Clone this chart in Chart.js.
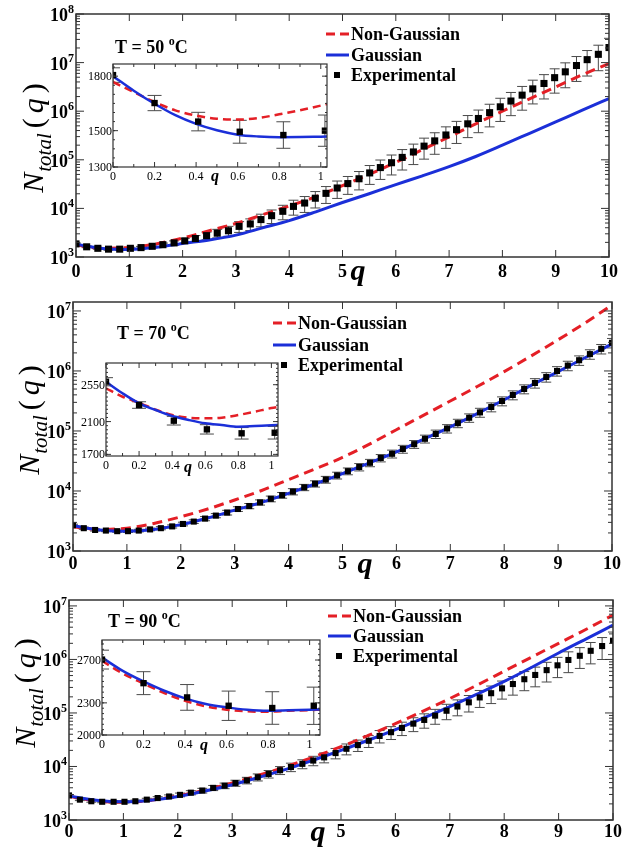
<!DOCTYPE html>
<html>
<head>
<meta charset="utf-8">
<script src="https://cdn.jsdelivr.net/npm/chart.js@4/dist/chart.umd.min.js"></script>
<style>
  body { margin: 0; background: #fff; }
  #wrap { position: relative; width: 629px; height: 850px; overflow: hidden; }
  canvas { position: absolute; }
</style>
</head>
<body>
<div id="wrap">
  <canvas id="p1"></canvas>
  <canvas id="p2"></canvas>
  <canvas id="p3"></canvas>
  <canvas id="i1"></canvas>
  <canvas id="i2"></canvas>
  <canvas id="i3"></canvas>
</div>
<script>
// ---- data ----
// q of the experimental points (main panels)
const qExp = [0, 0.2, 0.41, 0.61, 0.82, 1.02, 1.22, 1.43, 1.63, 1.84,
  2.04, 2.24, 2.45, 2.65, 2.86, 3.06, 3.27, 3.47, 3.67, 3.88,
  4.08, 4.29, 4.49, 4.69, 4.9, 5.1, 5.31, 5.51, 5.71, 5.92,
  6.12, 6.33, 6.53, 6.73, 6.94, 7.14, 7.35, 7.55, 7.76, 7.96,
  8.16, 8.37, 8.57, 8.78, 8.98, 9.18, 9.39, 9.59, 9.8, 10];
// q of the model curves (main panels)
const qFit = [0, 0.5, 1, 1.5, 2, 2.5, 3, 3.5, 4, 4.5, 5, 5.5, 6, 6.5, 7, 7.5, 8, 8.5, 9, 9.5, 10];

// T = 50 C
const exp50 = [1860, 1620, 1510, 1450, 1450, 1510, 1560, 1660, 1790, 1950,
  2150, 2400, 2750, 3090, 3470, 4270, 4790, 5890, 7080, 8710,
  1.10e4, 1.29e4, 1.62e4, 2.04e4, 2.63e4, 3.24e4, 4.07e4, 5.37e4, 6.92e4, 8.71e4,
  1.12e5, 1.45e5, 1.91e5, 2.45e5, 3.24e5, 4.17e5, 5.50e5, 7.08e5, 9.33e5, 1.23e6,
  1.62e6, 2.14e6, 2.88e6, 3.72e6, 4.90e6, 6.46e6, 8.71e6, 1.15e7, 1.48e7, 2.04e7];
const err50 = [0.04, 0.04, 0.04, 0.05, 0.05, 0.05, 0.06, 0.07, 0.08, 0.10,
  0.12, 0.15, 0.18, 0.20, 0.23, 0.25, 0.27, 0.29, 0.31, 0.33,
  0.34, 0.36, 0.37, 0.38, 0.39, 0.40, 0.41, 0.42, 0.43, 0.44,
  0.45, 0.45, 0.46, 0.47, 0.47, 0.48, 0.48, 0.49, 0.49, 0.50,
  0.50, 0.51, 0.51, 0.52, 0.52, 0.53, 0.53, 0.54, 0.54, 0.55];
const gauss50 = [1840, 1500, 1430, 1580, 1900, 2240, 2820, 3980, 5620, 8510, 1.32e4,
  2.00e4, 3.09e4, 4.68e4, 7.24e4, 1.17e5, 2.00e5, 3.47e5, 6.03e5, 1.05e6, 1.82e6];
const nonGauss50 = [1760, 1510, 1570, 1860, 2450, 3470, 4900, 7410, 1.12e4, 1.74e4, 2.95e4,
  5.01e4, 8.91e4, 1.62e5, 2.95e5, 5.50e5, 1.00e6, 1.78e6, 3.16e6, 5.62e6, 9.55e6];

// T = 70 C
const exp70 = [2690, 2400, 2240, 2190, 2140, 2140, 2190, 2290, 2400, 2570,
  2820, 3090, 3470, 3890, 4370, 5010, 5620, 6460, 7410, 8510,
  9770, 1.15e4, 1.32e4, 1.55e4, 1.82e4, 2.14e4, 2.51e4, 2.95e4, 3.55e4, 4.17e4,
  5.01e4, 6.03e4, 7.41e4, 8.91e4, 1.10e5, 1.35e5, 1.66e5, 2.04e5, 2.51e5, 3.16e5,
  3.98e5, 5.01e5, 6.31e5, 7.94e5, 1.00e6, 1.23e6, 1.51e6, 1.91e6, 2.34e6, 2.95e6];
const err70 = [0.04, 0.04, 0.04, 0.04, 0.04, 0.05, 0.05, 0.05, 0.06, 0.06,
  0.07, 0.07, 0.08, 0.08, 0.09, 0.09, 0.10, 0.10, 0.11, 0.11,
  0.12, 0.12, 0.12, 0.13, 0.13, 0.13, 0.14, 0.14, 0.14, 0.15,
  0.15, 0.15, 0.15, 0.16, 0.16, 0.16, 0.16, 0.17, 0.17, 0.17,
  0.17, 0.17, 0.18, 0.18, 0.18, 0.18, 0.18, 0.18, 0.18, 0.18];
const gauss70 = [2630, 2240, 2140, 2290, 2750, 3550, 4790, 6460, 9120, 1.32e4, 1.95e4,
  2.95e4, 4.47e4, 7.24e4, 1.17e5, 1.95e5, 3.31e5, 5.75e5, 9.77e5, 1.66e6, 2.82e6];
const nonGauss70 = [2510, 2290, 2400, 2880, 3720, 5010, 7080, 1.02e4, 1.55e4, 2.34e4, 3.63e4,
  6.03e4, 1.05e5, 1.82e5, 3.16e5, 5.50e5, 9.77e5, 1.78e6, 3.31e6, 6.31e6, 1.26e7];

// T = 90 C
const exp90 = [2880, 2400, 2240, 2190, 2190, 2190, 2240, 2400, 2570, 2750,
  2950, 3240, 3550, 3980, 4370, 4900, 5500, 6310, 7240, 8510,
  9770, 1.12e4, 1.29e4, 1.48e4, 1.78e4, 2.14e4, 2.51e4, 3.02e4, 3.72e4, 4.37e4,
  5.25e4, 6.31e4, 7.41e4, 8.91e4, 1.10e5, 1.32e5, 1.58e5, 1.95e5, 2.34e5, 2.88e5,
  3.47e5, 4.27e5, 5.13e5, 6.31e5, 7.76e5, 9.77e5, 1.17e6, 1.45e6, 1.78e6, 2.24e6];
const err90 = [0.04, 0.04, 0.04, 0.04, 0.05, 0.05, 0.05, 0.06, 0.06, 0.07,
  0.08, 0.09, 0.10, 0.11, 0.12, 0.13, 0.14, 0.15, 0.16, 0.17,
  0.18, 0.19, 0.20, 0.21, 0.22, 0.23, 0.24, 0.25, 0.26, 0.27,
  0.28, 0.29, 0.30, 0.31, 0.32, 0.33, 0.34, 0.35, 0.36, 0.37,
  0.38, 0.39, 0.40, 0.40, 0.41, 0.42, 0.42, 0.43, 0.44, 0.45];
const gauss90 = [2820, 2340, 2190, 2340, 2750, 3470, 4570, 6310, 8910, 1.32e4, 2.00e4,
  3.09e4, 4.90e4, 7.94e4, 1.32e5, 2.24e5, 3.89e5, 7.08e5, 1.32e6, 2.40e6, 4.37e6];
const nonGauss90 = [2750, 2290, 2140, 2340, 2820, 3630, 4900, 6920, 1.00e4, 1.51e4, 2.34e4,
  3.80e4, 6.31e4, 1.07e5, 1.86e5, 3.31e5, 6.03e5, 1.10e6, 2.00e6, 3.63e6, 6.76e6];

// insets (0 <= q <= ~1)
const qInsetFit = [0, 0.1, 0.2, 0.3, 0.4, 0.5, 0.6, 0.7, 0.8, 0.9, 1.0, 1.05];
const qInsetExp = [0, 0.2, 0.41, 0.61, 0.82, 1.02];

const insetGauss50 = [1800, 1720, 1648, 1585, 1537, 1502, 1478, 1468, 1464, 1465, 1467, 1468];
const insetNonGauss50 = [1768, 1712, 1657, 1612, 1583, 1566, 1561, 1570, 1590, 1612, 1638, 1652];
const insetExp50 = [1806, 1652, 1550, 1494, 1476, 1500];
const insetErr50 = [40, 42, 51, 63, 73, 86];

const insetGauss70 = [2586, 2445, 2323, 2241, 2168, 2119, 2079, 2058, 2038, 2046, 2055, 2058];
const insetNonGauss70 = [2506, 2403, 2330, 2245, 2180, 2147, 2140, 2147, 2180, 2220, 2265, 2281];
const insetExp70 = [2586, 2302, 2111, 2005, 1957, 1964];
const insetErr70 = [50, 40, 53, 57, 70, 77];

const insetGauss90 = [2723, 2599, 2500, 2413, 2342, 2289, 2258, 2236, 2227, 2231, 2236, 2239];
const insetNonGauss90 = [2692, 2574, 2481, 2392, 2320, 2268, 2236, 2221, 2217, 2227, 2232, 2236];
const insetExp90 = [2704, 2484, 2351, 2273, 2252, 2273];
const insetErr90 = [88, 107, 120, 137, 152, 174];

// tick labels
const xTicksMain = [0, 1, 2, 3, 4, 5, 6, 7, 8, 9, 10];
const xTicksInset = [0, 0.2, 0.4, 0.6, 0.8, 1];
const xTickLabelsInset = ['0', '0.2', '0.4', '0.6', '0.8', '1'];
const yTicksInset50 = [1300, 1500, 1800];
const yTicksInset70 = [1700, 2100, 2550];
const yTicksInset90 = [2000, 2300, 2700];
const legendLabels = ['Non-Gaussian', 'Gaussian', 'Experimental'];

const RED = '#e41f26';
const BLUE = '#1b2fd8';
const SERIF = '"Liberation Serif", "Times New Roman", "DejaVu Serif", serif';

function pts(xs, ys) {
  return ys.map((v, i) => ({ x: xs[i], y: v }));
}

// draws frame, ticks, labels, legend and error bars around the library's scales
const deco = {
  id: 'deco',
  beforeDraw(chart, args, o) {
    if (!o.inset) return;
    const a = chart.chartArea, ctx = chart.ctx;
    ctx.save();
    ctx.fillStyle = '#fff';
    ctx.fillRect(a.left, a.top, a.right - a.left, a.bottom - a.top);
    ctx.restore();
  },
  beforeDatasetsDraw(chart, args, o) {
    const ctx = chart.ctx, xs = chart.scales.x, ys = chart.scales.y;
    const a = chart.chartArea;
    const ds = chart.data.datasets[0];
    ctx.save();
    ctx.beginPath();
    ctx.rect(a.left, a.top, a.right - a.left, a.bottom - a.top);
    ctx.clip();
    ctx.strokeStyle = '#4a4a4a';
    ctx.lineWidth = 1;
    ds.data.forEach((p, i) => {
      const e = o.relErr ? p.y * o.err[i] : o.err[i];
      const x = xs.getPixelForValue(p.x);
      const y1 = ys.getPixelForValue(p.y + e);
      const y2 = ys.getPixelForValue(p.y - e);
      ctx.beginPath();
      ctx.moveTo(x, y1); ctx.lineTo(x, y2);
      ctx.moveTo(x - o.cap, y1); ctx.lineTo(x + o.cap, y1);
      ctx.moveTo(x - o.cap, y2); ctx.lineTo(x + o.cap, y2);
      ctx.stroke();
    });
    ctx.restore();
  },
  afterDraw(chart, args, o) {
    const ctx = chart.ctx, a = chart.chartArea;
    const xs = chart.scales.x, ys = chart.scales.y;
    ctx.save();
    ctx.fillStyle = '#000';
    ctx.strokeStyle = '#333';
    ctx.lineWidth = o.inset ? 1.2 : 1.5;
    ctx.strokeRect(a.left, a.top, a.right - a.left, a.bottom - a.top);

    const tick = (x1, y1, x2, y2) => { ctx.beginPath(); ctx.moveTo(x1, y1); ctx.lineTo(x2, y2); ctx.stroke(); };
    ctx.lineWidth = 1;

    if (!o.inset) {
      // x ticks, top and bottom
      xTicksMain.forEach(v => {
        const x = xs.getPixelForValue(v);
        tick(x, a.bottom, x, a.bottom - 7);
        tick(x, a.top, x, a.top + 7);
      });
      // log y ticks, left and right
      const lo = Math.round(Math.log10(ys.min)), hi = Math.floor(Math.log10(ys.max));
      for (let e = lo; e <= hi; e++) {
        for (let m = 1; m < 10; m++) {
          const v = m * Math.pow(10, e);
          if (v > ys.max) break;
          const y = ys.getPixelForValue(v);
          const len = m === 1 ? 8 : 4;
          tick(a.left, y, a.left + len, y);
          tick(a.right, y, a.right - len, y);
        }
      }
      // x tick labels
      ctx.font = 'bold 18px ' + SERIF;
      ctx.textAlign = 'center';
      xTicksMain.forEach(v => ctx.fillText(String(v), xs.getPixelForValue(v), a.bottom + o.xLabDy));
      // y tick labels 10^n
      for (let e = lo; e <= hi; e++) {
        const y = ys.getPixelForValue(Math.pow(10, e));
        ctx.font = 'bold 12px ' + SERIF;
        const w2 = ctx.measureText(String(e)).width;
        ctx.textAlign = 'right';
        ctx.fillText(String(e), a.left - 2, y - 1);
        ctx.font = 'bold 18px ' + SERIF;
        ctx.fillText('10', a.left - 2 - w2, y + 7);
      }
      // x title
      ctx.font = 'bold italic 30px ' + SERIF;
      ctx.textAlign = 'center';
      ctx.fillText('q', o.qTitle.x, o.qTitle.y);
      // y title  N_total(q), rotated
      ctx.save();
      ctx.translate(o.yTitle.x, o.yTitle.cy);
      ctx.rotate(-Math.PI / 2);
      const parts = [
        ['N', 'italic 30px ', 0, 0],
        ['total', 'italic 21px ', 8, 1],
        ['(', '30px ', 0, 5],
        ['q', 'italic 30px ', 0, 5],
        [')', '30px ', 0, 5]
      ];
      let total = 0;
      parts.forEach(p => { ctx.font = p[1] + SERIF; total += ctx.measureText(p[0]).width + p[3]; });
      let cx = -total / 2;
      ctx.textAlign = 'left';
      parts.forEach(p => {
        ctx.font = p[1] + SERIF;
        cx += p[3];
        ctx.fillText(p[0], cx, p[2]);
        cx += ctx.measureText(p[0]).width;
      });
      ctx.restore();
      // temperature label
      ctx.textAlign = 'left';
      ctx.font = 'bold 18px ' + SERIF;
      let tx = o.tLabel.x;
      const s1 = 'T = ' + o.temp + ' ';
      ctx.fillText(s1, tx, o.tLabel.y);
      tx += ctx.measureText(s1).width;
      ctx.font = 'bold 12px ' + SERIF;
      ctx.fillText('o', tx, o.tLabel.y - 8);
      tx += ctx.measureText('o').width;
      ctx.font = 'bold 18px ' + SERIF;
      ctx.fillText('C', tx, o.tLabel.y);
      // legend
      const L = o.legend;
      ctx.lineWidth = 3;
      ctx.strokeStyle = RED;
      ctx.setLineDash([9, 5]);
      tick(L.x, L.rows[0], L.x + 23, L.rows[0]);
      ctx.setLineDash([]);
      ctx.strokeStyle = BLUE;
      tick(L.x, L.rows[1], L.x + 23, L.rows[1]);
      ctx.fillRect(L.x + 8, L.rows[2] - 3, 6, 6);
      ctx.font = 'bold 18px ' + SERIF;
      legendLabels.forEach((s, i) => ctx.fillText(s, L.x + 25, L.rows[i] + 6));
    } else {
      // inset ticks
      for (let k = 0; k <= 10; k++) {
        const x = xs.getPixelForValue(k / 10);
        const len = k % 2 === 0 ? 5 : 3;
        tick(x, a.bottom, x, a.bottom - len);
        tick(x, a.top, x, a.top + len);
      }
      for (let v = Math.ceil(ys.min / 50) * 50; v <= ys.max; v += 50) {
        const y = ys.getPixelForValue(v);
        tick(a.left, y, a.left + 2, y);
        tick(a.right, y, a.right - 2, y);
      }
      o.yTicks.forEach(v => {
        const y = ys.getPixelForValue(v);
        tick(a.left, y, a.left + 5, y);
        tick(a.right, y, a.right - 5, y);
      });
      ctx.font = '12px ' + SERIF;
      ctx.textAlign = 'right';
      o.yTicks.forEach(v => ctx.fillText(String(v), a.left - 1, ys.getPixelForValue(v) + 4));
      ctx.textAlign = 'center';
      xTicksInset.forEach((v, i) => ctx.fillText(xTickLabelsInset[i], xs.getPixelForValue(v), a.bottom + 13));
      ctx.font = 'bold italic 16px ' + SERIF;
      ctx.fillText('q', o.qTitle.x, o.qTitle.y);
    }
    ctx.restore();
  }
};

function place(id, left, top, w, h) {
  const c = document.getElementById(id);
  c.width = w; c.height = h;
  c.style.left = left + 'px'; c.style.top = top + 'px';
  c.style.width = w + 'px'; c.style.height = h + 'px';
  return c;
}

function mainChart(p) {
  const c = place(p.id, 0, p.top, 629, p.h);
  new Chart(c, {
    type: 'line',
    data: {
      datasets: [
        { label: 'Experimental', data: pts(qExp, p.exp), showLine: false, pointStyle: 'rect',
          pointRadius: p.ptR, backgroundColor: '#000', borderColor: '#000', borderWidth: 0 },
        { label: 'Gaussian', data: pts(qFit, p.gauss), borderColor: BLUE, borderWidth: 3,
          pointRadius: 0, cubicInterpolationMode: 'monotone', fill: false },
        { label: 'Non-Gaussian', data: pts(qFit, p.nonGauss), borderColor: RED, borderWidth: 3,
          borderDash: [10, 6], pointRadius: 0, cubicInterpolationMode: 'monotone', fill: false }
      ]
    },
    options: {
      responsive: false,
      animation: false,
      events: [],
      layout: { padding: p.pad },
      scales: {
        x: { type: 'linear', min: 0, max: 10, display: false },
        y: { type: 'logarithmic', min: 1000, max: p.ymax, display: false }
      },
      plugins: {
        legend: { display: false },
        tooltip: { enabled: false },
        deco: { inset: false, relErr: true, err: p.err, cap: 5, xLabDy: p.xLabDy, qTitle: p.qTitle,
          yTitle: p.yTitle, tLabel: p.tLabel, temp: p.temp, legend: p.legend }
      }
    },
    plugins: [deco]
  });
}

function insetChart(p) {
  const c = place(p.id, p.left, p.top, p.w, p.h);
  new Chart(c, {
    type: 'line',
    data: {
      datasets: [
        { label: 'Experimental', data: pts(qInsetExp, p.exp), showLine: false, pointStyle: 'rect',
          pointRadius: 4.5, backgroundColor: '#000', borderColor: '#000', borderWidth: 0 },
        { label: 'Gaussian', data: pts(qInsetFit, p.gauss), borderColor: BLUE, borderWidth: 2.5,
          pointRadius: 0, cubicInterpolationMode: 'monotone', fill: false },
        { label: 'Non-Gaussian', data: pts(qInsetFit, p.nonGauss), borderColor: RED, borderWidth: 2.5,
          borderDash: [8, 5], pointRadius: 0, cubicInterpolationMode: 'monotone', fill: false }
      ]
    },
    options: {
      responsive: false,
      animation: false,
      events: [],
      layout: { padding: p.pad },
      scales: {
        x: { type: 'linear', min: 0, max: p.xmax, display: false },
        y: { type: 'linear', min: p.ymin, max: p.ymax, display: false }
      },
      plugins: {
        legend: { display: false },
        tooltip: { enabled: false },
        deco: { inset: true, relErr: false, err: p.err, cap: 7, yTicks: p.yTicks, qTitle: p.qTitle }
      }
    },
    plugins: [deco]
  });
}

mainChart({ id: 'p1', top: 0, h: 292, pad: { left: 76, right: 20, top: 14, bottom: 35 }, ymax: 1e8,
  exp: exp50, err: err50, gauss: gauss50, nonGauss: nonGauss50, ptR: 5, xLabDy: 20, temp: '50',
  legend: { x: 326, rows: [34, 55, 75] }, tLabel: { x: 115, y: 53 }, yTitle: { x: 43, cy: 138 },
  qTitle: { x: 358, y: 280 } });
mainChart({ id: 'p2', top: 292, h: 293, pad: { left: 73, right: 17, top: 10, bottom: 34 }, ymax: 1.41e7,
  exp: exp70, err: err70, gauss: gauss70, nonGauss: nonGauss70, ptR: 4.3, xLabDy: 18, temp: '70',
  legend: { x: 273, rows: [31, 53, 73] }, tLabel: { x: 117, y: 47 }, yTitle: { x: 39, cy: 128 },
  qTitle: { x: 365, y: 281 } });
mainChart({ id: 'p3', top: 585, h: 265, pad: { left: 69, right: 16, top: 15, bottom: 30 }, ymax: 1.29e7,
  exp: exp90, err: err90, gauss: gauss90, nonGauss: nonGauss90, ptR: 4.3, xLabDy: 17, temp: '90',
  legend: { x: 328, rows: [31, 51, 71] }, tLabel: { x: 108, y: 42 }, yTitle: { x: 35, cy: 108 },
  qTitle: { x: 318, y: 256 } });

insetChart({ id: 'i1', left: 80, top: 55, w: 260, h: 135, pad: { left: 33, top: 9, right: 13, bottom: 23 },
  xmax: 1.03, ymin: 1300, ymax: 1867, yTicks: yTicksInset50, exp: insetExp50, err: insetErr50,
  gauss: insetGauss50, nonGauss: insetNonGauss50, qTitle: { x: 135, y: 126 } });
insetChart({ id: 'i2', left: 70, top: 355, w: 220, h: 125, pad: { left: 36, top: 8, right: 12, bottom: 24 },
  xmax: 1.04, ymin: 1680, ymax: 2815, yTicks: yTicksInset70, exp: insetExp70, err: insetErr70,
  gauss: insetGauss70, nonGauss: insetNonGauss70, qTitle: { x: 118, y: 117 } });
insetChart({ id: 'i3', left: 65, top: 632, w: 265, h: 125, pad: { left: 37, top: 8, right: 10, bottom: 22 },
  xmax: 1.05, ymin: 2000, ymax: 2887, yTicks: yTicksInset90, exp: insetExp90, err: insetErr90,
  gauss: insetGauss90, nonGauss: insetNonGauss90, qTitle: { x: 139, y: 118 } });
</script>
</body>
</html>
